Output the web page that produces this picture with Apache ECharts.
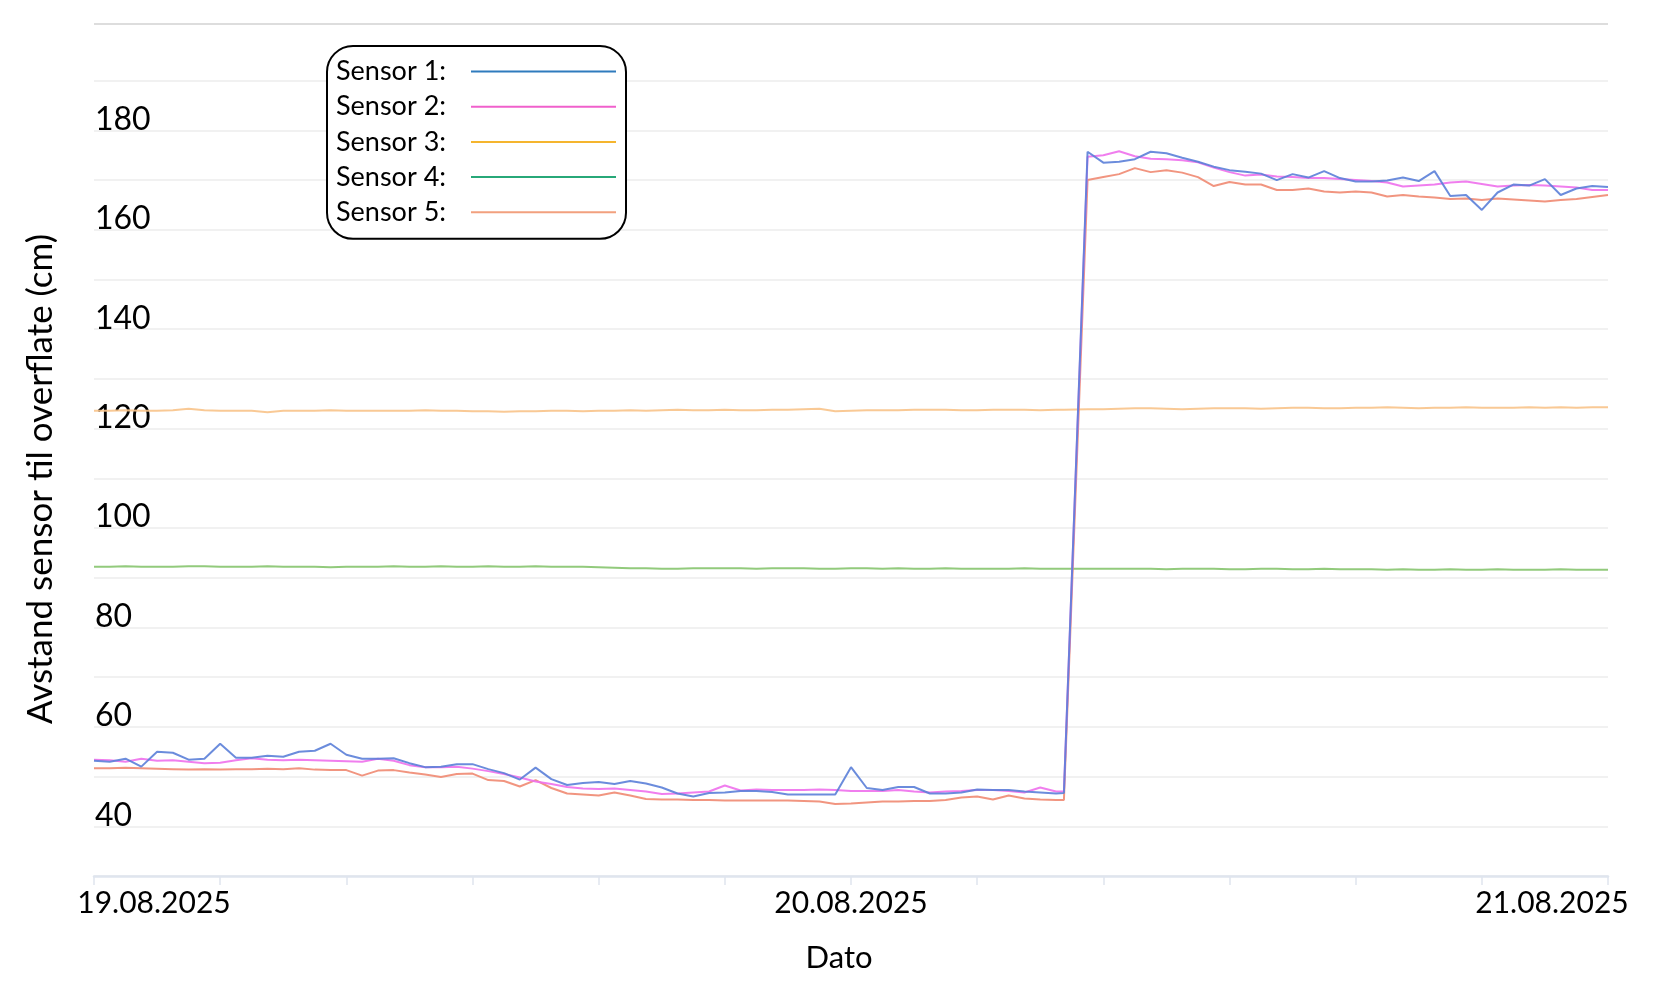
<!DOCTYPE html>
<html><head><meta charset="utf-8">
<script src="https://cdn.jsdelivr.net/npm/echarts@6/dist/echarts.min.js"></script>
<style>html,body{margin:0;padding:0;background:#fff}#c{width:1662px;height:988px}</style>
</head><body><div id="c"></div><script>
// time in hours from 19.08.2025 00:00
const hours = [0,0.5,1,1.5,2,2.5,3,3.5,4,4.5,5,5.5,6,6.5,7,7.5,8,8.5,9,9.5,10,10.5,11,11.5,12,12.5,13,13.5,14,14.5,15,15.5,16,
  16.5,17,17.5,18,18.5,19,19.5,20,20.5,21,21.5,22,22.5,23,23.5,24,24.5,25,25.5,26,26.5,27,27.5,28,28.5,29,29.5,30,30.5,
  30.75,31.5,
  32,32.5,33,33.5,34,34.5,35,35.5,36,36.5,37,37.5,38,38.5,39,39.5,40,40.5,41,41.5,42,42.5,43,43.5,44,44.5,45,45.5,46,46.5,47,47.5,48];

const sensorNames = ['Sensor 1:', 'Sensor 2:', 'Sensor 3:', 'Sensor 4:', 'Sensor 5:'];

const sensor1 = [53.2,53.0,53.6,52.0,55.0,54.8,53.4,53.6,56.6,53.8,53.8,54.2,54.0,55.0,55.2,56.6,54.4,53.6,53.6,53.7,52.7,51.9,52.0,52.5,52.5,51.5,50.7,49.4,51.8,49.5,48.3,48.7,48.9,
  48.5,49.1,48.6,47.8,46.6,46.0,46.7,46.8,47.1,47.1,46.9,46.4,46.4,46.4,46.4,51.9,47.7,47.3,47.9,47.9,46.6,46.6,46.8,47.4,47.3,47.3,47.0,46.8,46.6,
  46.7,175.7,
  173.5,173.7,174.2,175.7,175.4,174.5,173.7,172.7,172.0,171.7,171.3,170.0,171.2,170.5,171.8,170.4,169.7,169.7,169.9,170.5,169.8,171.8,166.8,167.0,164.0,167.5,169.1,168.9,170.2,167.0,168.3,168.8,168.6];

const sensor2 = [53.4,53.3,53.0,53.6,53.2,53.3,53.0,52.7,52.8,53.3,53.7,53.4,53.3,53.4,53.3,53.2,53.1,53.0,53.6,53.2,52.3,51.9,51.9,52.0,51.6,51.1,50.5,49.8,49.0,48.5,47.9,47.6,47.5,
  47.6,47.3,47.0,46.5,46.6,46.8,47.0,48.2,47.2,47.4,47.3,47.3,47.3,47.4,47.3,47.1,47.1,47.1,47.3,47.0,46.8,47.0,47.1,47.3,47.3,47.1,46.8,47.8,47.0,
  47.0,174.7,
  175.0,175.8,174.8,174.3,174.2,174.0,173.6,172.5,171.6,170.9,171.1,170.7,170.6,170.4,170.4,170.2,170.0,169.8,169.5,168.7,168.9,169.1,169.5,169.7,169.2,168.7,168.9,169.0,168.9,168.7,168.5,168.0,168.0];

const sensor3 = [123.6,123.6,123.7,123.6,123.6,123.7,124.0,123.7,123.6,123.6,123.6,123.3,123.6,123.6,123.6,123.7,123.6,123.6,123.6,123.6,123.6,123.7,123.6,123.6,123.5,123.5,123.4,123.5,123.5,123.6,123.6,123.5,
  123.6,123.6,123.7,123.6,123.7,123.8,123.7,123.7,123.8,123.7,123.7,123.8,123.8,123.9,124.0,123.5,123.6,123.7,123.7,123.7,123.8,123.8,123.8,123.7,123.7,123.8,123.8,123.8,123.7,123.8,
  123.8,123.9,
  123.9,124.0,124.1,124.1,124.0,123.9,124.0,124.1,124.1,124.1,124.0,124.1,124.2,124.2,124.1,124.1,124.2,124.2,124.3,124.2,124.1,124.2,124.2,124.3,124.2,124.2,124.2,124.3,124.2,124.3,124.2,124.3,124.3];

const sensor4 = [92.2,92.2,92.3,92.2,92.2,92.2,92.3,92.3,92.2,92.2,92.2,92.3,92.2,92.2,92.2,92.1,92.2,92.2,92.2,92.3,92.2,92.2,92.3,92.2,92.2,92.3,92.2,92.2,92.3,92.2,92.2,92.2,92.1,92.0,
  91.9,91.9,91.8,91.8,91.9,91.9,91.9,91.9,91.8,91.9,91.9,91.9,91.8,91.8,91.9,91.9,91.8,91.9,91.8,91.8,91.9,91.8,91.8,91.8,91.8,91.9,91.8,91.8,
  91.8,91.8,
  91.8,91.8,91.8,91.8,91.7,91.8,91.8,91.8,91.7,91.7,91.8,91.8,91.7,91.7,91.8,91.7,91.7,91.7,91.6,91.7,91.6,91.6,91.7,91.6,91.6,91.7,91.6,91.6,91.6,91.7,91.6,91.6,91.6];

const sensor5 = [51.7,51.7,51.8,51.7,51.6,51.5,51.4,51.5,51.4,51.5,51.5,51.6,51.5,51.7,51.4,51.3,51.3,50.2,51.2,51.3,50.8,50.4,49.9,50.5,50.6,49.3,49.1,48.0,49.3,47.7,46.6,46.4,46.2,
  46.8,46.2,45.5,45.4,45.4,45.3,45.3,45.2,45.2,45.2,45.2,45.2,45.1,45.0,44.5,44.6,44.8,45.0,45.0,45.1,45.1,45.3,45.8,46.0,45.4,46.2,45.6,45.4,45.3,
  45.3,170.0,
  170.6,171.2,172.4,171.6,172.0,171.5,170.6,168.8,169.6,169.1,169.1,168.0,168.0,168.3,167.7,167.5,167.7,167.5,166.7,167.0,166.7,166.5,166.2,166.3,166.0,166.3,166.1,165.9,165.7,166.0,166.2,166.6,167.0];

const yTickLabels = [40, 60, 80, 100, 120, 140, 160, 180];
const dayHours = [0, 24, 48];
const dayLabels = ['19.08.2025', '20.08.2025', '21.08.2025'];

const lineColors = ['#5b80d8', '#ee70ec', '#f8c38a', '#86c46e', '#f08a72'];
const legendColors = ['#2f7bbd', '#f060cc', '#f5b52e', '#27a878', '#f2a07e'];
const seriesValues = [sensor1, sensor2, sensor3, sensor4, sensor5];
const zOrder = [6, 5, 3, 3, 4];

const FONT = 'Lato, "Open Sans", sans-serif';
const gridColors = [];
for (let i = 0; i < 19; i++) gridColors.push(i === 17 ? 'rgba(0,0,0,0)' : (i === 18 ? '#d2d2d2' : '#ececec'));

const chart = echarts.init(document.getElementById('c'));
chart.setOption({
  animation: false,
  backgroundColor: '#fff',
  grid: { left: 94, right: 54, top: 24, bottom: 112 },
  legend: {
    orient: 'vertical', left: 327, top: 46, align: 'right',
    padding: [12, 10, 13, 9], itemGap: 8.2, itemWidth: 145, itemHeight: 2, icon: 'rect',
    backgroundColor: '#fff', borderColor: '#000', borderWidth: 2, borderRadius: 26,
    formatter: n => '{t|' + n + '}',
    textStyle: {
      fontFamily: FONT, fontSize: 27, color: '#000', lineHeight: 26,
      rich: { t: { fontFamily: FONT, fontSize: 27, color: '#000', lineHeight: 26, width: 130, align: 'left' } }
    },
    data: sensorNames.map((n, i) => ({ name: n, itemStyle: { color: legendColors[i] }, lineStyle: { color: legendColors[i] } }))
  },
  xAxis: {
    type: 'value', min: 0, max: 48, interval: 4,
    axisLine: { show: true, lineStyle: { color: '#dfe5ee', width: 2.5 } },
    axisTick: { show: true, length: 9, lineStyle: { color: '#dfe5ee', width: 1.5 } },
    splitLine: { show: false },
    axisLabel: {
      margin: 12, showMinLabel: true, showMaxLabel: true,
      fontFamily: FONT, fontSize: 30, color: '#000',
      formatter: v => {
        const i = dayHours.indexOf(Math.round(v));
        if (i < 0) return '';
        return '{d' + i + '|' + dayLabels[i] + '}';
      },
      rich: {
        d0: { fontFamily: FONT, fontSize: 30, color: '#000', padding: [0, 0, 0, 120] },
        d1: { fontFamily: FONT, fontSize: 30, color: '#000' },
        d2: { fontFamily: FONT, fontSize: 30, color: '#000', padding: [0, 112, 0, 0] }
      }
    },
    name: 'Dato', nameLocation: 'middle', nameGap: 66,
    nameTextStyle: { fontFamily: FONT, fontSize: 31, color: '#000', padding: [0, 24, 0, 0] }
  },
  yAxis: {
    type: 'value', min: 30, max: 201.4, interval: 10,
    axisLine: { show: false }, axisTick: { show: false },
    splitLine: { show: true, lineStyle: { color: gridColors, width: 1.5 } },
    axisLabel: {
      align: 'left', margin: -1, verticalAlign: 'bottom', lineHeight: 22,
      fontFamily: FONT, fontSize: 32, color: '#000',
      formatter: v => yTickLabels.includes(Math.round(v)) && Math.abs(v - Math.round(v)) < 1e-6 ? String(Math.round(v)) : ''
    },
    name: 'Avstand sensor til overflate (cm)', nameLocation: 'middle', nameGap: 36, nameRotate: 90,
    nameTextStyle: { fontFamily: FONT, fontSize: 35, color: '#000', padding: [0, 58, 0, 0] }
  },
  series: sensorNames.map((n, i) => ({
    name: n, type: 'line', symbol: 'none', z: zOrder[i],
    data: hours.map((h, j) => [h, seriesValues[i][j]]),
    lineStyle: { color: lineColors[i], width: 2, opacity: 0.9 },
    itemStyle: { color: lineColors[i] }
  }))
});
</script></body></html>
